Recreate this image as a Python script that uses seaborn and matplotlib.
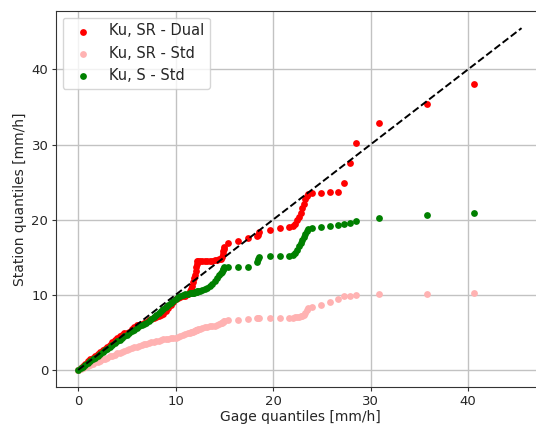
import matplotlib
matplotlib.use("Agg")
import matplotlib.pyplot as plt
import seaborn as sns
import pandas as pd

# Gage quantiles [mm/h] (shared by all three series)
gage_q = [0, 0.25, 0.5, 0.75, 1, 1.25, 1.5, 1.75, 2, 2.25, 2.5, 2.75, 3, 3.25, 3.5, 3.75,
          4, 4.25, 4.5, 4.75, 5, 5.25, 5.5, 5.75, 6, 6.25, 6.5, 6.75, 7, 7.25, 7.5, 7.75,
          8, 8.25, 8.5, 8.75, 9, 9.25, 9.5, 9.75, 10, 10.25, 10.5, 10.75, 11, 11.25, 11.5,
          11.6, 11.7, 11.8, 11.9, 12.0, 12.05, 12.1, 12.15, 12.2, 12.3, 12.5, 12.75, 13.0,
          13.25, 13.5, 13.75, 14.0, 14.25, 14.5, 14.7, 14.8, 14.85, 14.9, 14.95, 15.0,
          15.4, 16.4, 17.4, 18.3, 18.45, 18.6, 19.7, 20.7, 21.6, 22.0, 22.3, 22.5, 22.7,
          22.85, 23.0, 23.15, 23.3, 23.45, 23.6, 24.0, 24.9, 25.8, 26.7, 27.3, 27.9, 28.5,
          30.9, 35.8, 40.6]

# Station quantiles [mm/h]
ku_sr_dual = [0, 0.25, 0.55, 0.85, 1.15, 1.4, 1.6, 1.85, 2.1, 2.35, 2.6, 2.85, 3.1, 3.35, 3.65, 3.95,
              4.25, 4.5, 4.7, 4.85, 4.95, 5.1, 5.4, 5.75, 5.95, 6.0, 6.05, 6.2, 6.4, 6.6, 6.8, 6.95,
              7.05, 7.15, 7.3, 7.5, 7.8, 8.2, 8.7, 9.1, 9.4, 9.6, 9.7, 9.8, 9.9, 10.1, 10.5,
              10.8, 11.2, 11.7, 12.2, 12.7, 13.2, 13.7, 14.1, 14.45, 14.5, 14.5, 14.5, 14.5,
              14.5, 14.55, 14.55, 14.6, 14.65, 14.7, 14.8, 15.0, 15.4, 15.8, 16.1, 16.4,
              16.9, 17.2, 17.5, 17.8, 18.0, 18.3, 18.65, 18.85, 19.0, 19.2, 19.45, 19.9, 20.4,
              20.9, 21.5, 22.1, 22.7, 23.2, 23.45, 23.5, 23.6, 23.65, 23.75, 24.9, 27.6, 30.2,
              32.9, 35.4, 38.05]

ku_sr_std = [0, 0.1, 0.25, 0.4, 0.55, 0.7, 0.85, 1.0, 1.1, 1.25, 1.4, 1.5, 1.65, 1.8, 1.9, 2.05,
             2.2, 2.3, 2.45, 2.55, 2.7, 2.8, 2.9, 3.0, 3.1, 3.2, 3.3, 3.4, 3.5, 3.6, 3.7, 3.75,
             3.85, 3.9, 4.0, 4.05, 4.1, 4.15, 4.2, 4.25, 4.3, 4.4, 4.5, 4.6, 4.75, 4.85, 4.95,
             5.0, 5.05, 5.1, 5.15, 5.2, 5.25, 5.3, 5.3, 5.35, 5.4, 5.5, 5.6, 5.65,
             5.7, 5.8, 5.85, 5.9, 6.0, 6.1, 6.2, 6.3, 6.35, 6.4, 6.45, 6.5,
             6.6, 6.7, 6.8, 6.85, 6.85, 6.85, 6.9, 6.9, 6.9, 6.95, 7.0, 7.05, 7.1,
             7.15, 7.2, 7.35, 7.6, 7.95, 8.2, 8.35, 8.7, 9.05, 9.45, 9.8, 9.9, 10.0,
             10.07, 10.16, 10.3]

ku_s_std = [0, 0.2, 0.45, 0.7, 0.95, 1.15, 1.4, 1.65, 1.9, 2.1, 2.35, 2.6, 2.85, 3.1, 3.3, 3.55,
            3.8, 4.0, 4.25, 4.45, 4.7, 4.9, 5.15, 5.35, 5.55, 5.8, 5.95, 6.1, 6.3, 6.55, 6.8, 7.05,
            7.35, 7.6, 7.85, 8.1, 8.35, 8.6, 8.9, 9.2, 9.45, 9.7, 9.85, 9.95, 10.05, 10.1, 10.2,
            10.2, 10.25, 10.3, 10.3, 10.35, 10.35, 10.4, 10.4, 10.45, 10.5, 10.55, 10.65, 10.8,
            10.95, 11.15, 11.4, 11.8, 12.2, 12.6, 12.95, 13.1, 13.25, 13.4, 13.55, 13.65,
            13.7, 13.7, 13.7, 14.3, 14.7, 15.05, 15.1, 15.2, 15.2, 15.3, 15.6, 16.0, 16.5,
            16.9, 17.3, 17.7, 18.1, 18.5, 18.75, 18.85, 19.0, 19.1, 19.3, 19.4, 19.5, 19.85,
            20.2, 20.6, 20.95]

series_labels = ["Ku, SR - Dual", "Ku, SR - Std", "Ku, S - Std"]
series_colors = ["#ff0000", "#ffb2b2", "#008000"]
one_to_one = [0, 45.5]

sns.set_style("ticks")
plt.rcParams["font.family"] = ["DejaVu Sans"]
plt.rcParams["font.size"] = 10

fig = plt.figure(figsize=(5.36, 4.25), dpi=100)
ax = fig.add_axes([0.1045, 0.0894, 0.910, 0.8847])

for vals, lab, col in zip([ku_sr_dual, ku_sr_std, ku_s_std], series_labels, series_colors):
    df = pd.DataFrame({"gage": gage_q, "station": vals})
    sns.scatterplot(data=df, x="gage", y="station", color=col, s=24,
                    linewidth=0, label=lab, ax=ax, zorder=2)

sns.lineplot(x=one_to_one, y=one_to_one, color="black", linestyle="--",
             linewidth=1.4, ax=ax, zorder=3)

ax.set_xlim(-2.275, 47.78)
ax.set_ylim(-2.275, 47.78)
ax.set_xticks([0, 10, 20, 30, 40])
ax.set_yticks([0, 10, 20, 30, 40])
ax.grid(True, color="#c2c2c2", linewidth=1.0)
ax.set_axisbelow(True)
for sp in ax.spines.values():
    sp.set_color("#333333")
    sp.set_linewidth(0.8)
ax.tick_params(labelsize=9.5, length=3, width=0.8, color="#333333", pad=2.5)
ax.set_xlabel("Gage quantiles [mm/h]", fontsize=10, labelpad=2)
ax.set_ylabel("Station quantiles [mm/h]", fontsize=10, labelpad=3)
ax.legend(loc="upper left", fontsize=10.5, borderaxespad=0.45)

fig.savefig("out.png", dpi=100)
